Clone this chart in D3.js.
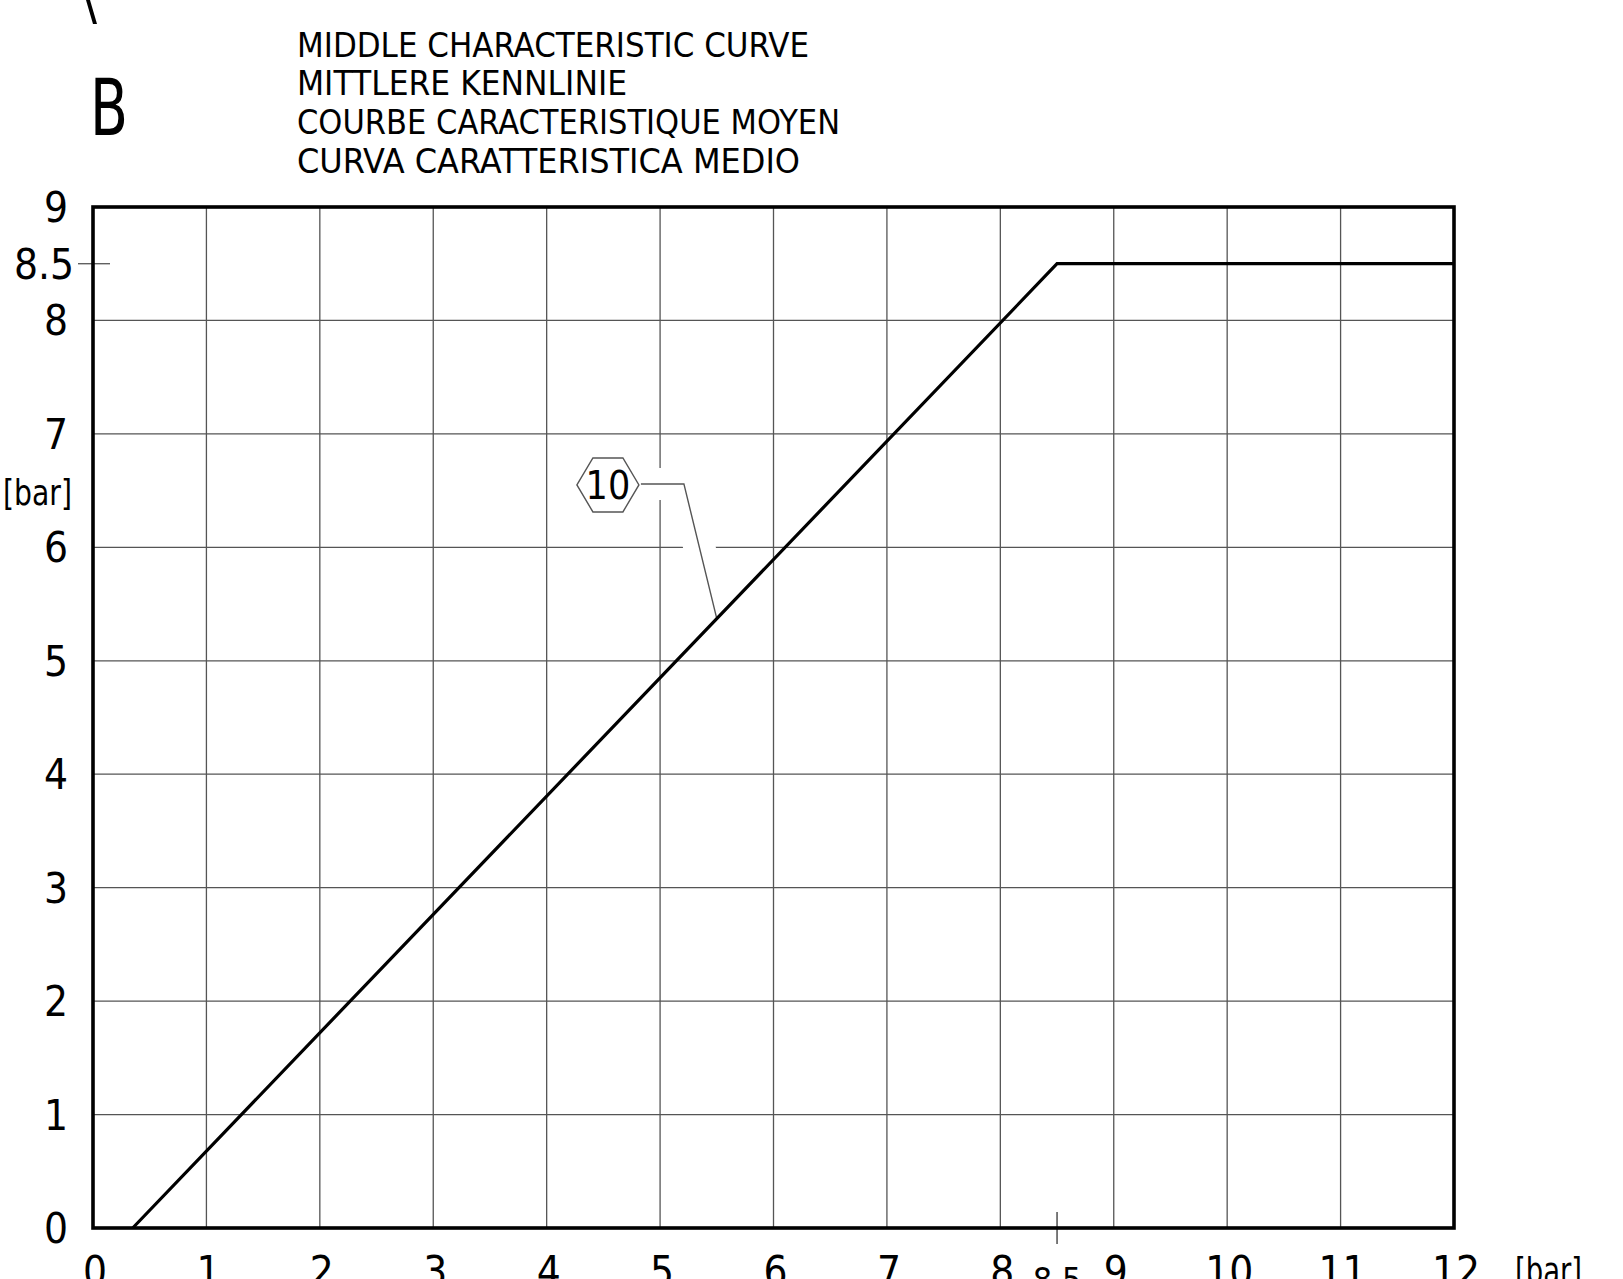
<!DOCTYPE html>
<html>
<head>
<meta charset="utf-8">
<script src="https://cdn.jsdelivr.net/npm/d3@7"></script>
<style>
  html, body { margin: 0; padding: 0; background: #fff; overflow: hidden; }
  svg { display: block; }
  text { font-family: "Liberation Sans Narrow", "DejaVu Sans Condensed", "Roboto Condensed", "Liberation Sans", sans-serif; fill: #000; }
</style>
</head>
<body>
<svg id="chart" width="1623" height="1279"></svg>
<script>
// ---------- data ----------
const titleLines = [
  "MIDDLE CHARACTERISTIC CURVE",
  "MITTLERE KENNLINIE",
  "COURBE CARACTERISTIQUE MOYEN",
  "CURVA CARATTERISTICA MEDIO"
];
const panelLetter = "B";
const xTicks = [0, 1, 2, 3, 4, 5, 6, 7, 8, 9, 10, 11, 12];
const yTicks = [0, 1, 2, 3, 4, 5, 6, 7, 8, 9];
const xGrid = [1, 2, 3, 4, 5, 6, 7, 8, 9, 10, 11];
const yGrid = [1, 2, 3, 4, 5, 6, 7, 8];
const markX = 8.5;          // extra x tick
const markY = 8.5;          // extra y tick
const curveX = [0.35, 8.5, 12];
const curveY = [0, 8.5, 8.5];
const unitLabel = "[bar]";
const calloutLabel = "10";
const calloutAt = [4.54, 6.55];   // hexagon centre (data units)
const calloutBend = 5.21;          // x of leader bend (data units)
const calloutTarget = 5.5;         // x on curve where leader ends

// ---------- layout ----------
const svg = d3.select("#chart");
const x = d3.scaleLinear().domain([0, 12]).range([93, 1454]);
const y = d3.scaleLinear().domain([0, 9]).range([1228, 207]);
const curve = d3.scaleLinear().domain(curveX).range(curveY);

// top-left partial stroke
svg.append("path")
  .attr("d", "M86,0 L90,0 L97,24 L93,24 Z")
  .attr("fill", "#000");

// panel letter
svg.append("text")
  .attr("x", 90).attr("y", 135)
  .attr("font-size", 79)
  .attr("textLength", 38).attr("lengthAdjust", "spacingAndGlyphs")
  .text(panelLetter);

// title
const titleWidths = [512, 330, 543, 503];
const titleBase = [57, 95, 134, 173];
titleLines.forEach((t, i) => {
  svg.append("text")
    .attr("x", 297).attr("y", titleBase[i])
    .attr("font-size", 33)
    .attr("textLength", titleWidths[i]).attr("lengthAdjust", "spacingAndGlyphs")
    .text(t);
});

// grid
const grid = svg.append("g").attr("stroke", "#555").attr("stroke-width", 1.3);
grid.selectAll("line.v").data(xGrid).join("line")
  .attr("class", "v")
  .attr("x1", d => x(d)).attr("x2", d => x(d))
  .attr("y1", y(0)).attr("y2", y(9));
grid.selectAll("line.h").data(yGrid).join("line")
  .attr("class", "h")
  .attr("x1", x(0)).attr("x2", x(12))
  .attr("y1", d => y(d)).attr("y2", d => y(d));

// extra tick marks at 8.5
svg.append("line")
  .attr("x1", x(0) - 15).attr("x2", x(0) + 17)
  .attr("y1", y(markY)).attr("y2", y(markY))
  .attr("stroke", "#555").attr("stroke-width", 1.3);
svg.append("line")
  .attr("x1", x(markX)).attr("x2", x(markX))
  .attr("y1", y(0) - 16).attr("y2", y(0) + 16)
  .attr("stroke", "#333").attr("stroke-width", 1.3);

// callout leader (with white halo that breaks grid lines)
const hexC = [x(calloutAt[0]), y(calloutAt[1])];
const leaderPts = [
  [hexC[0] + 33, hexC[1] - 1],
  [x(calloutBend), hexC[1] - 1],
  [x(calloutTarget), y(curve(calloutTarget))]
];
const lineGen = d3.line();
svg.append("path")
  .attr("d", lineGen(leaderPts))
  .attr("fill", "none").attr("stroke", "#fff").attr("stroke-width", 32);
svg.append("path")
  .attr("d", lineGen(leaderPts))
  .attr("fill", "none").attr("stroke", "#555").attr("stroke-width", 1.4);

// hexagon
const hw = 31, hh = 27, ht = 15;
const hexPts = [
  [-hw, 0], [-ht, -hh], [ht, -hh], [hw, 0], [ht, hh], [-ht, hh]
].map(p => [hexC[0] + p[0], hexC[1] + p[1]]);
svg.append("path")
  .attr("d", lineGen(hexPts) + "Z")
  .attr("fill", "#fff").attr("stroke", "#555").attr("stroke-width", 1.4);
svg.append("text")
  .attr("x", hexC[0]).attr("y", hexC[1] + 14)
  .attr("text-anchor", "middle")
  .attr("font-size", 39)
  .text(calloutLabel);

// curve
svg.append("path")
  .datum(curveX.map((d, i) => [d, curveY[i]]))
  .attr("d", d3.line().x(d => x(d[0])).y(d => y(d[1])))
  .attr("fill", "none").attr("stroke", "#000").attr("stroke-width", 3.2)
  .attr("stroke-linejoin", "miter");

// frame
svg.append("rect")
  .attr("x", x(0)).attr("y", y(9))
  .attr("width", x(12) - x(0)).attr("height", y(0) - y(9))
  .attr("fill", "none").attr("stroke", "#000").attr("stroke-width", 3.6);

// y tick labels
const yl = svg.append("g").attr("font-size", 42).attr("text-anchor", "end");
yl.selectAll("text").data(yTicks).join("text")
  .attr("x", 68).attr("y", d => y(d) + 15)
  .text(d => d);
yl.append("text")
  .attr("x", 74).attr("y", y(markY) + 15)
  .text(markY);

// x tick labels
const xl = svg.append("g").attr("font-size", 42).attr("text-anchor", "middle");
xl.selectAll("text").data(xTicks).join("text")
  .attr("x", d => x(d) + 2).attr("y", 1286)
  .text(d => d);
svg.append("text")
  .attr("x", x(markX)).attr("y", 1292)
  .attr("font-size", 34).attr("text-anchor", "middle")
  .text(markX);

// unit labels
svg.append("text")
  .attr("x", 3).attr("y", 505)
  .attr("font-size", 36)
  .attr("textLength", 69).attr("lengthAdjust", "spacingAndGlyphs")
  .text(unitLabel);
svg.append("text")
  .attr("x", 1515).attr("y", 1284)
  .attr("font-size", 38)
  .attr("textLength", 67).attr("lengthAdjust", "spacingAndGlyphs")
  .text(unitLabel);
</script>
</body>
</html>
